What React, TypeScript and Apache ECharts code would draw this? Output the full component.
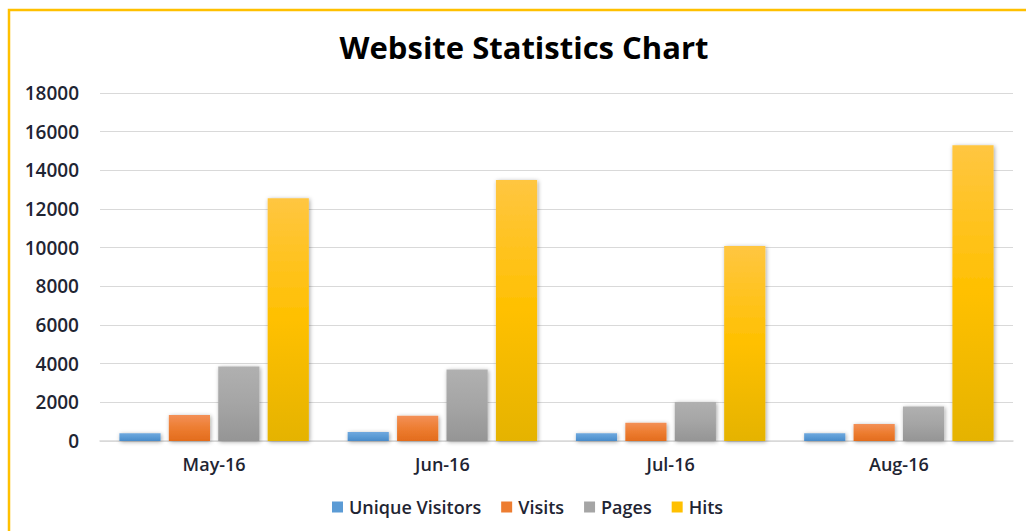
import React, { useEffect, useRef } from "react";
import * as echarts from "echarts";

const categories = ["May-16", "Jun-16", "Jul-16", "Aug-16"];
const uniqueVisitors = [400, 460, 400, 400];
const visits = [1350, 1300, 950, 880];
const pages = [3850, 3700, 2020, 1780];
const hits = [12550, 13500, 10080, 15300];
const yTicks = { min: 0, max: 18000, interval: 2000 };

const FONT = "'Open Sans', sans-serif";
const TEXT = "#1f2533";

function grad(top: string, mid: string, bottom: string) {
  return new echarts.graphic.LinearGradient(0, 0, 0, 1, [
    { offset: 0, color: top },
    { offset: 0.5, color: mid },
    { offset: 1, color: bottom },
  ]);
}

export default function App() {
  const ref = useRef<HTMLDivElement>(null);
  useEffect(() => {
    if (!ref.current) return;
    const chart = echarts.init(ref.current, undefined, { renderer: "svg" });
    const mk = (name: string, data: number[], c: any) => ({
      name,
      type: "bar",
      data,
      barGap: "20%",
      barCategoryGap: "17%",
      itemStyle: {
        color: c,
        shadowBlur: 4,
        shadowColor: "rgba(0,0,0,0.35)",
        shadowOffsetX: 1,
        shadowOffsetY: 1,
      },
    });
    chart.setOption({
      animation: false,
      backgroundColor: "#ffffff",
      color: ["#5b9bd5", "#ed7d31", "#a5a5a5", "#ffc000"],
      graphic: [
        {
          type: "rect",
          shape: { x: 9, y: 10, width: 1040, height: 540 },
          style: { fill: "none", stroke: "#ffc000", lineWidth: 2.5 },
          silent: true,
        },
        {
          type: "text",
          x: 524,
          y: 47,
          style: {
            text: "Website Statistics Chart",
            textAlign: "center",
            textVerticalAlign: "middle",
            fontFamily: FONT,
            fontWeight: "bold",
            fontSize: 31,
            fill: "#000000",
          },
        },
      ],
      legend: {
        left: 327,
        top: 493,
        itemWidth: 11,
        itemHeight: 11,
        itemGap: 20,
        icon: "rect",
        textStyle: { fontFamily: FONT, fontSize: 18, color: TEXT, fontWeight: 600, padding: [0, 0, 0, 1] },
        data: [
          { name: "Unique Visitors", itemStyle: { color: "#5b9bd5" } },
          { name: "Visits", itemStyle: { color: "#ed7d31" } },
          { name: "Pages", itemStyle: { color: "#a5a5a5" } },
          { name: "Hits", itemStyle: { color: "#ffc000" } },
        ],
      },
      grid: { left: 100, right: 13, top: 93, bottom: 90, containLabel: false },
      xAxis: {
        type: "category",
        data: categories,
        axisLine: { lineStyle: { color: "#d9d9d9", width: 1.5 } },
        axisTick: { show: false },
        axisLabel: { fontFamily: FONT, fontSize: 18, color: TEXT, fontWeight: 600, margin: 14 },
      },
      yAxis: {
        type: "value",
        min: yTicks.min,
        max: yTicks.max,
        interval: yTicks.interval,
        axisLine: { show: false },
        axisTick: { show: false },
        splitLine: { lineStyle: { color: "#d9d9d9", width: 1 } },
        axisLabel: {
          fontFamily: FONT,
          fontSize: 19,
          color: TEXT,
          fontWeight: 600,
          margin: 21,
          formatter: (v: number) => String(v),
        },
      },
      series: [
        mk("Unique Visitors", uniqueVisitors, grad("#6fa8de", "#5b9bd5", "#4a8bc9")),
        mk("Visits", visits, grad("#f39057", "#ed7d31", "#e36c1d")),
        mk("Pages", pages, grad("#b0b0b0", "#a5a5a5", "#959595")),
        mk("Hits", hits, grad("#ffc641", "#ffc000", "#e5b300")),
      ],
    });
    return () => chart.dispose();
  }, []);
  return (
    <div
      ref={ref}
      style={{ position: "fixed", left: 0, top: 0, width: 1026, height: 531 }}
    />
  );
}
